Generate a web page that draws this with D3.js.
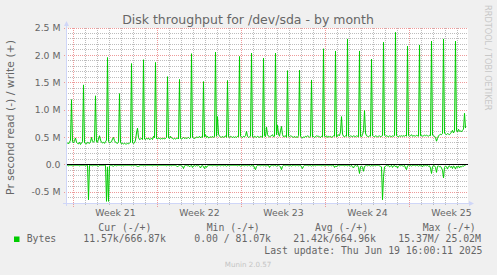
<!DOCTYPE html>
<html>
<head>
<meta charset="utf-8">
<script src="https://cdn.jsdelivr.net/npm/d3@7"></script>
<style>
  body { margin: 0; background: #F0F0F0; }
  svg { display: block; }
</style>
</head>
<body>
<div id="chart"></div>
<script>
// Canvas and plot box
var width = 497, height = 275;
var plotLeft = 66, plotRight = 468, plotTop = 28, plotBottom = 203;

// Samples every 2 hours, one row per day starting at 10:00 (MB/s)
var firstSample = new Date(2025, 4, 17, 10);
var writeRows = [
  [0.39,0.40,0.38,0.41,0.45,1.19,0.42,0.40,0.44,0.49,0.41,0.39],
  [0.38,0.41,0.37,0.40,0.42,1.46,0.40,0.39,0.38,0.41,0.40,0.39],
  [0.42,0.50,0.43,0.41,0.44,1.26,0.42,0.41,0.47,0.53,0.45,0.41],
  [0.40,0.41,0.39,0.42,0.45,1.96,0.43,0.40,0.41,0.42,0.47,0.50],
  [0.44,0.41,0.40,0.39,0.42,1.30,0.41,0.38,0.39,0.38,0.39,0.38],
  [0.38,0.39,0.38,0.40,0.41,1.85,0.40,0.39,0.40,0.45,0.58,0.67],
  [0.50,0.46,0.47,0.48,0.46,1.92,0.47,0.46,0.48,0.47,0.49,0.46],
  [0.47,0.48,0.46,0.52,0.49,1.87,0.48,0.47,0.49,0.48,0.47,0.48],
  [0.47,0.49,0.47,0.48,0.50,1.61,0.49,0.48,0.52,0.49,0.48,0.47],
  [0.48,0.47,0.48,0.49,0.47,1.56,0.48,0.47,0.48,0.50,0.48,0.49],
  [0.48,0.49,0.50,0.48,0.49,2.03,0.50,0.49,0.48,0.49,0.51,0.50],
  [0.50,0.52,0.49,0.51,0.50,1.52,0.51,0.55,0.50,0.52,0.49,0.50],
  [0.51,0.50,0.52,0.50,0.51,2.06,0.52,0.88,0.56,0.52,0.51,0.50],
  [0.52,0.50,0.51,0.53,0.50,1.54,0.51,0.50,0.52,0.51,0.50,0.51],
  [0.50,0.51,0.50,0.52,0.51,1.98,0.52,0.51,0.50,0.52,0.51,0.53],
  [0.61,0.52,0.50,0.51,0.52,2.04,0.51,0.50,0.52,0.51,0.50,0.52],
  [0.51,0.50,0.52,0.51,0.50,1.95,0.53,0.51,0.69,0.55,0.52,0.51],
  [0.52,0.53,0.55,0.51,0.52,2.04,0.55,0.72,0.56,0.52,0.62,0.70],
  [0.55,0.51,0.52,0.53,0.50,1.72,0.52,0.51,0.53,0.52,0.51,0.50],
  [0.52,0.50,0.51,0.50,0.53,1.73,0.52,0.50,0.49,0.51,0.50,0.52],
  [0.51,0.53,0.52,0.50,0.52,1.55,0.51,0.52,0.50,0.51,0.53,0.52],
  [0.52,0.51,0.50,0.52,0.51,2.12,0.52,0.51,0.53,0.50,0.52,0.51],
  [0.52,0.50,0.51,0.53,0.52,2.08,0.51,0.52,0.55,0.53,0.60,0.88],
  [0.56,0.52,0.51,0.53,0.52,2.30,0.52,0.51,0.53,0.52,0.51,0.53],
  [0.52,0.51,0.53,0.52,0.51,2.08,0.52,0.51,0.55,0.62,0.99,0.58],
  [0.53,0.52,0.51,0.53,0.52,1.93,0.53,0.52,0.51,0.53,0.52,0.51],
  [0.52,0.53,0.51,0.52,0.53,2.24,0.54,0.52,0.53,0.52,0.51,0.53],
  [0.52,0.51,0.53,0.52,0.53,2.42,0.53,0.52,0.51,0.53,0.52,0.53],
  [0.52,0.53,0.52,0.54,0.52,2.17,0.53,0.52,0.53,0.55,0.52,0.53],
  [0.53,0.52,0.54,0.53,0.52,2.19,0.53,0.54,0.52,0.53,0.54,0.53],
  [0.54,0.53,0.52,0.54,0.53,2.26,0.54,0.53,0.52,0.50,0.43,0.48],
  [0.53,0.54,0.56,0.55,0.57,2.30,0.58,0.56,0.55,0.57,0.56,0.55],
  [0.57,0.60,0.63,0.58,0.62,2.26,0.62,0.60,0.65,0.61,0.62,0.60],
  [0.63,0.65,0.94,0.67]
];
var readRows = [
  [0.01,0.01,0.02,0.01,0.01,0.01,0.02,0.01,0.01,0.01,0.01,0.01],
  [0.01,0.02,0.01,0.01,0.01,0.01,0.01,0.02,0.01,0.01,0.64,0.01],
  [0.01,0.01,0.02,0.01,0.01,0.01,0.01,0.02,0.03,0.01,0.01,0.01],
  [0.01,0.01,0.01,0.01,0.67,0.04,0.67,0.02,0.01,0.01,0.02,0.03],
  [0.01,0.01,0.02,0.01,0.01,0.01,0.01,0.01,0.01,0.02,0.01,0.01],
  [0.01,0.01,0.01,0.01,0.01,0.02,0.01,0.01,0.01,0.01,0.02,0.03],
  [0.03,0.02,0.01,0.01,0.01,0.02,0.01,0.01,0.01,0.01,0.01,0.01],
  [0.01,0.01,0.02,0.01,0.01,0.01,0.01,0.02,0.01,0.01,0.01,0.01],
  [0.01,0.01,0.01,0.01,0.02,0.01,0.01,0.01,0.01,0.02,0.01,0.01],
  [0.01,0.01,0.02,0.04,0.02,0.01,0.01,0.02,0.03,0.07,0.02,0.01],
  [0.01,0.02,0.01,0.04,0.02,0.01,0.05,0.02,0.01,0.03,0.01,0.02],
  [0.01,0.03,0.06,0.02,0.01,0.04,0.07,0.02,0.05,0.02,0.01,0.01],
  [0.01,0.01,0.02,0.01,0.01,0.01,0.02,0.01,0.01,0.01,0.02,0.01],
  [0.01,0.02,0.01,0.01,0.03,0.01,0.01,0.02,0.01,0.01,0.01,0.01],
  [0.01,0.01,0.01,0.02,0.01,0.01,0.03,0.01,0.01,0.01,0.02,0.01],
  [0.01,0.02,0.01,0.01,0.03,0.01,0.02,0.01,0.06,0.09,0.03,0.01],
  [0.01,0.01,0.02,0.01,0.01,0.02,0.01,0.01,0.02,0.01,0.01,0.05],
  [0.02,0.01,0.01,0.02,0.01,0.01,0.03,0.01,0.01,0.02,0.04,0.09],
  [0.03,0.01,0.01,0.02,0.01,0.01,0.02,0.01,0.01,0.03,0.01,0.01],
  [0.01,0.02,0.01,0.01,0.02,0.01,0.01,0.04,0.07,0.03,0.01,0.01],
  [0.01,0.01,0.02,0.01,0.01,0.03,0.01,0.01,0.01,0.02,0.01,0.01],
  [0.01,0.01,0.01,0.02,0.01,0.01,0.02,0.01,0.01,0.01,0.02,0.01],
  [0.01,0.02,0.01,0.01,0.05,0.02,0.04,0.01,0.01,0.02,0.01,0.01],
  [0.01,0.01,0.02,0.01,0.01,0.02,0.01,0.01,0.03,0.01,0.04,0.06],
  [0.02,0.01,0.03,0.01,0.05,0.16,0.04,0.02,0.05,0.12,0.03,0.02],
  [0.01,0.02,0.01,0.01,0.03,0.01,0.02,0.01,0.01,0.02,0.01,0.01],
  [0.01,0.02,0.03,0.04,0.64,0.22,0.04,0.03,0.01,0.02,0.01,0.04],
  [0.03,0.01,0.05,0.02,0.01,0.04,0.02,0.06,0.03,0.01,0.02,0.01],
  [0.02,0.03,0.01,0.06,0.09,0.02,0.01,0.02,0.01,0.03,0.01,0.01],
  [0.01,0.02,0.01,0.01,0.03,0.01,0.02,0.01,0.04,0.01,0.02,0.01],
  [0.02,0.01,0.03,0.02,0.06,0.16,0.04,0.01,0.02,0.05,0.14,0.03],
  [0.02,0.04,0.03,0.06,0.10,0.24,0.05,0.02,0.04,0.08,0.03,0.02],
  [0.05,0.03,0.07,0.02,0.04,0.08,0.03,0.05,0.02,0.06,0.03,0.04],
  [0.02,0.03,0.01,0.01]
];

// Axis ticks and labels
var yTickValues = [-0.5, 0, 0.5, 1, 1.5, 2, 2.5];
var yTickLabels = ["-0.5 M", "0.0", "0.5 M", "1.0 M", "1.5 M", "2.0 M", "2.5 M"];
var weekLabels = ["Week 21", "Week 22", "Week 23", "Week 24", "Week 25"];

// Legend texts
var legendHeads = ["Cur (-/+)", "Min (-/+)", "Avg (-/+)", "Max (-/+)"];
var legendValues = ["11.57k/666.87k", "0.00 / 81.07k", "21.42k/664.96k", "15.37M/ 25.02M"];
var seriesName = "Bytes";
var lastUpdate = "Last update: Thu Jun 19 16:00:11 2025";

var green = "#00CC00";
var fontColor = "#666666";
var axisColor = "#CFD6F8";

// flatten rows into timed samples
var writeData = [], readData = [];
writeRows.flat().forEach(function(v, i) {
  writeData.push({t: d3.timeHour.offset(firstSample, 2 * i), v: v});
});
readRows.flat().forEach(function(v, i) {
  readData.push({t: d3.timeHour.offset(firstSample, 2 * i), v: v});
});

var x = d3.scaleTime()
  .domain([new Date(2025, 4, 17, 9), new Date(2025, 5, 19, 21)])
  .range([plotLeft, plotRight]);

var y = d3.scaleLinear()
  .domain([-0.7, 2.5])
  .range([plotBottom, plotTop]);

var crisp = function(v) { return Math.round(v - 0.5) + 0.5; };

var svg = d3.select("#chart")
  .append("svg")
  .attr("width", width)
  .attr("height", height);

svg.append("rect").attr("width", width).attr("height", height).attr("fill", "#F0F0F0");
svg.append("rect")
  .attr("x", plotLeft).attr("y", plotTop)
  .attr("width", plotRight - plotLeft).attr("height", plotBottom - plotTop)
  .attr("fill", "#FFFFFF");

// grid
var grid = svg.append("g").attr("stroke-width", 1).attr("stroke-dasharray", "1,1");
var isMajor = function(v) { return yTickValues.some(function(t) { return Math.abs(t - v) < 1e-6; }); };

grid.selectAll(".hminor")
  .data(y.ticks(32).filter(function(v) { return !isMajor(v); }))
  .join("line")
  .attr("x1", plotLeft).attr("x2", plotRight)
  .attr("y1", d => crisp(y(d))).attr("y2", d => crisp(y(d)))
  .attr("stroke", "#BDBDBD");

var days = d3.timeDay.range(x.domain()[0], x.domain()[1]);
var weeks = d3.timeSunday.range(x.domain()[0], x.domain()[1]);

grid.selectAll(".vminor")
  .data(days.filter(function(d) { return d.getDay() !== 0; }))
  .join("line")
  .attr("x1", d => crisp(x(d))).attr("x2", d => crisp(x(d)))
  .attr("y1", plotTop).attr("y2", plotBottom + 2)
  .attr("stroke", "#BDBDBD");

grid.selectAll(".hmajor")
  .data(yTickValues)
  .join("line")
  .attr("x1", plotLeft - 2).attr("x2", plotRight)
  .attr("y1", d => crisp(y(d))).attr("y2", d => crisp(y(d)))
  .attr("stroke", "#EE9A9A");

grid.selectAll(".vmajor")
  .data(weeks)
  .join("line")
  .attr("x1", d => crisp(x(d))).attr("x2", d => crisp(x(d)))
  .attr("y1", plotTop).attr("y2", plotBottom + 4)
  .attr("stroke", "#EE9A9A");

// series
var line = d3.line().x(d => x(d.t));

svg.append("path")
  .datum(readData)
  .attr("fill", "none")
  .attr("stroke", green)
  .attr("stroke-width", 1)
  .attr("d", line.y(d => y(-d.v)));

svg.append("path")
  .datum(writeData)
  .attr("fill", "none")
  .attr("stroke", green)
  .attr("stroke-width", 1)
  .attr("d", line.y(d => y(d.v)));

// zero rule
svg.append("line")
  .attr("x1", plotLeft).attr("x2", plotRight)
  .attr("y1", crisp(y(0))).attr("y2", crisp(y(0)))
  .attr("stroke", "#000000");

// axes with arrows
svg.append("line")
  .attr("x1", plotLeft - 3).attr("x2", plotRight + 1)
  .attr("y1", plotBottom + 0.5).attr("y2", plotBottom + 0.5)
  .attr("stroke", axisColor);
svg.append("line")
  .attr("x1", plotLeft + 0.5).attr("x2", plotLeft + 0.5)
  .attr("y1", plotBottom + 3).attr("y2", plotTop - 3)
  .attr("stroke", axisColor);
svg.append("path")
  .attr("d", `M${plotRight + 1},${plotBottom - 2} L${plotRight + 6},${plotBottom + 0.5} L${plotRight + 1},${plotBottom + 3} Z`)
  .attr("fill", axisColor);
svg.append("path")
  .attr("d", `M${plotLeft - 2},${plotTop - 2} L${plotLeft + 0.5},${plotTop - 7} L${plotLeft + 3},${plotTop - 2} Z`)
  .attr("fill", axisColor);

// text
var txt = svg.append("g").attr("fill", fontColor).attr("font-family", "'DejaVu Sans', sans-serif");

txt.append("text")
  .attr("x", 248).attr("y", 24)
  .attr("text-anchor", "middle")
  .attr("font-size", 12.5)
  .text("Disk throughput for /dev/sda - by month");

txt.selectAll(".ylab")
  .data(yTickValues)
  .join("text")
  .attr("x", 60.5)
  .attr("y", d => y(d) + 3.4)
  .attr("text-anchor", "end")
  .attr("font-size", 9.3)
  .text((d, i) => yTickLabels[i]);

txt.append("text")
  .attr("transform", "translate(14,117.5) rotate(-90)")
  .attr("text-anchor", "middle")
  .attr("font-size", 10.8)
  .text("Pr second read (-) / write (+)");

txt.selectAll(".xlab")
  .data(weeks)
  .join("text")
  .attr("x", d => x(d3.timeHour.offset(d, 84)))
  .attr("y", 216)
  .attr("text-anchor", "middle")
  .attr("font-size", 9.3)
  .text((d, i) => weekLabels[i]);

// legend
var legend = svg.append("g")
  .attr("fill", fontColor)
  .attr("font-family", "'DejaVu Sans Mono', monospace")
  .attr("font-size", 9.8)
  .style("white-space", "pre");

var headX = [98.3, 206.7, 315, 422.7];
var valueX = [83.3, 194.3, 293.3, 398.3];

legend.selectAll(".head")
  .data(legendHeads)
  .join("text")
  .attr("x", (d, i) => headX[i]).attr("y", 230.5)
  .text(d => d);

legend.append("rect")
  .attr("x", 14).attr("y", 236.5).attr("width", 5.5).attr("height", 5.5)
  .attr("fill", green);

legend.append("text").attr("x", 26.7).attr("y", 242).text(seriesName);

legend.selectAll(".val")
  .data(legendValues)
  .join("text")
  .attr("x", (d, i) => valueX[i]).attr("y", 242)
  .text(d => d);

legend.append("text")
  .attr("x", 482.5).attr("y", 253.5)
  .attr("text-anchor", "end")
  .text(lastUpdate);

svg.append("text")
  .attr("x", 248).attr("y", 267)
  .attr("text-anchor", "middle")
  .attr("font-family", "'DejaVu Sans', sans-serif")
  .attr("font-size", 7.1)
  .attr("fill", "#C4C4C4")
  .text("Munin 2.0.57");

svg.append("text")
  .attr("transform", "translate(485,5) rotate(90)")
  .attr("font-family", "'DejaVu Sans', sans-serif")
  .attr("font-size", 8.2)
  .attr("fill", "#C8C8C8")
  .text("RRDTOOL / TOBI OETIKER");
</script>
</body>
</html>
